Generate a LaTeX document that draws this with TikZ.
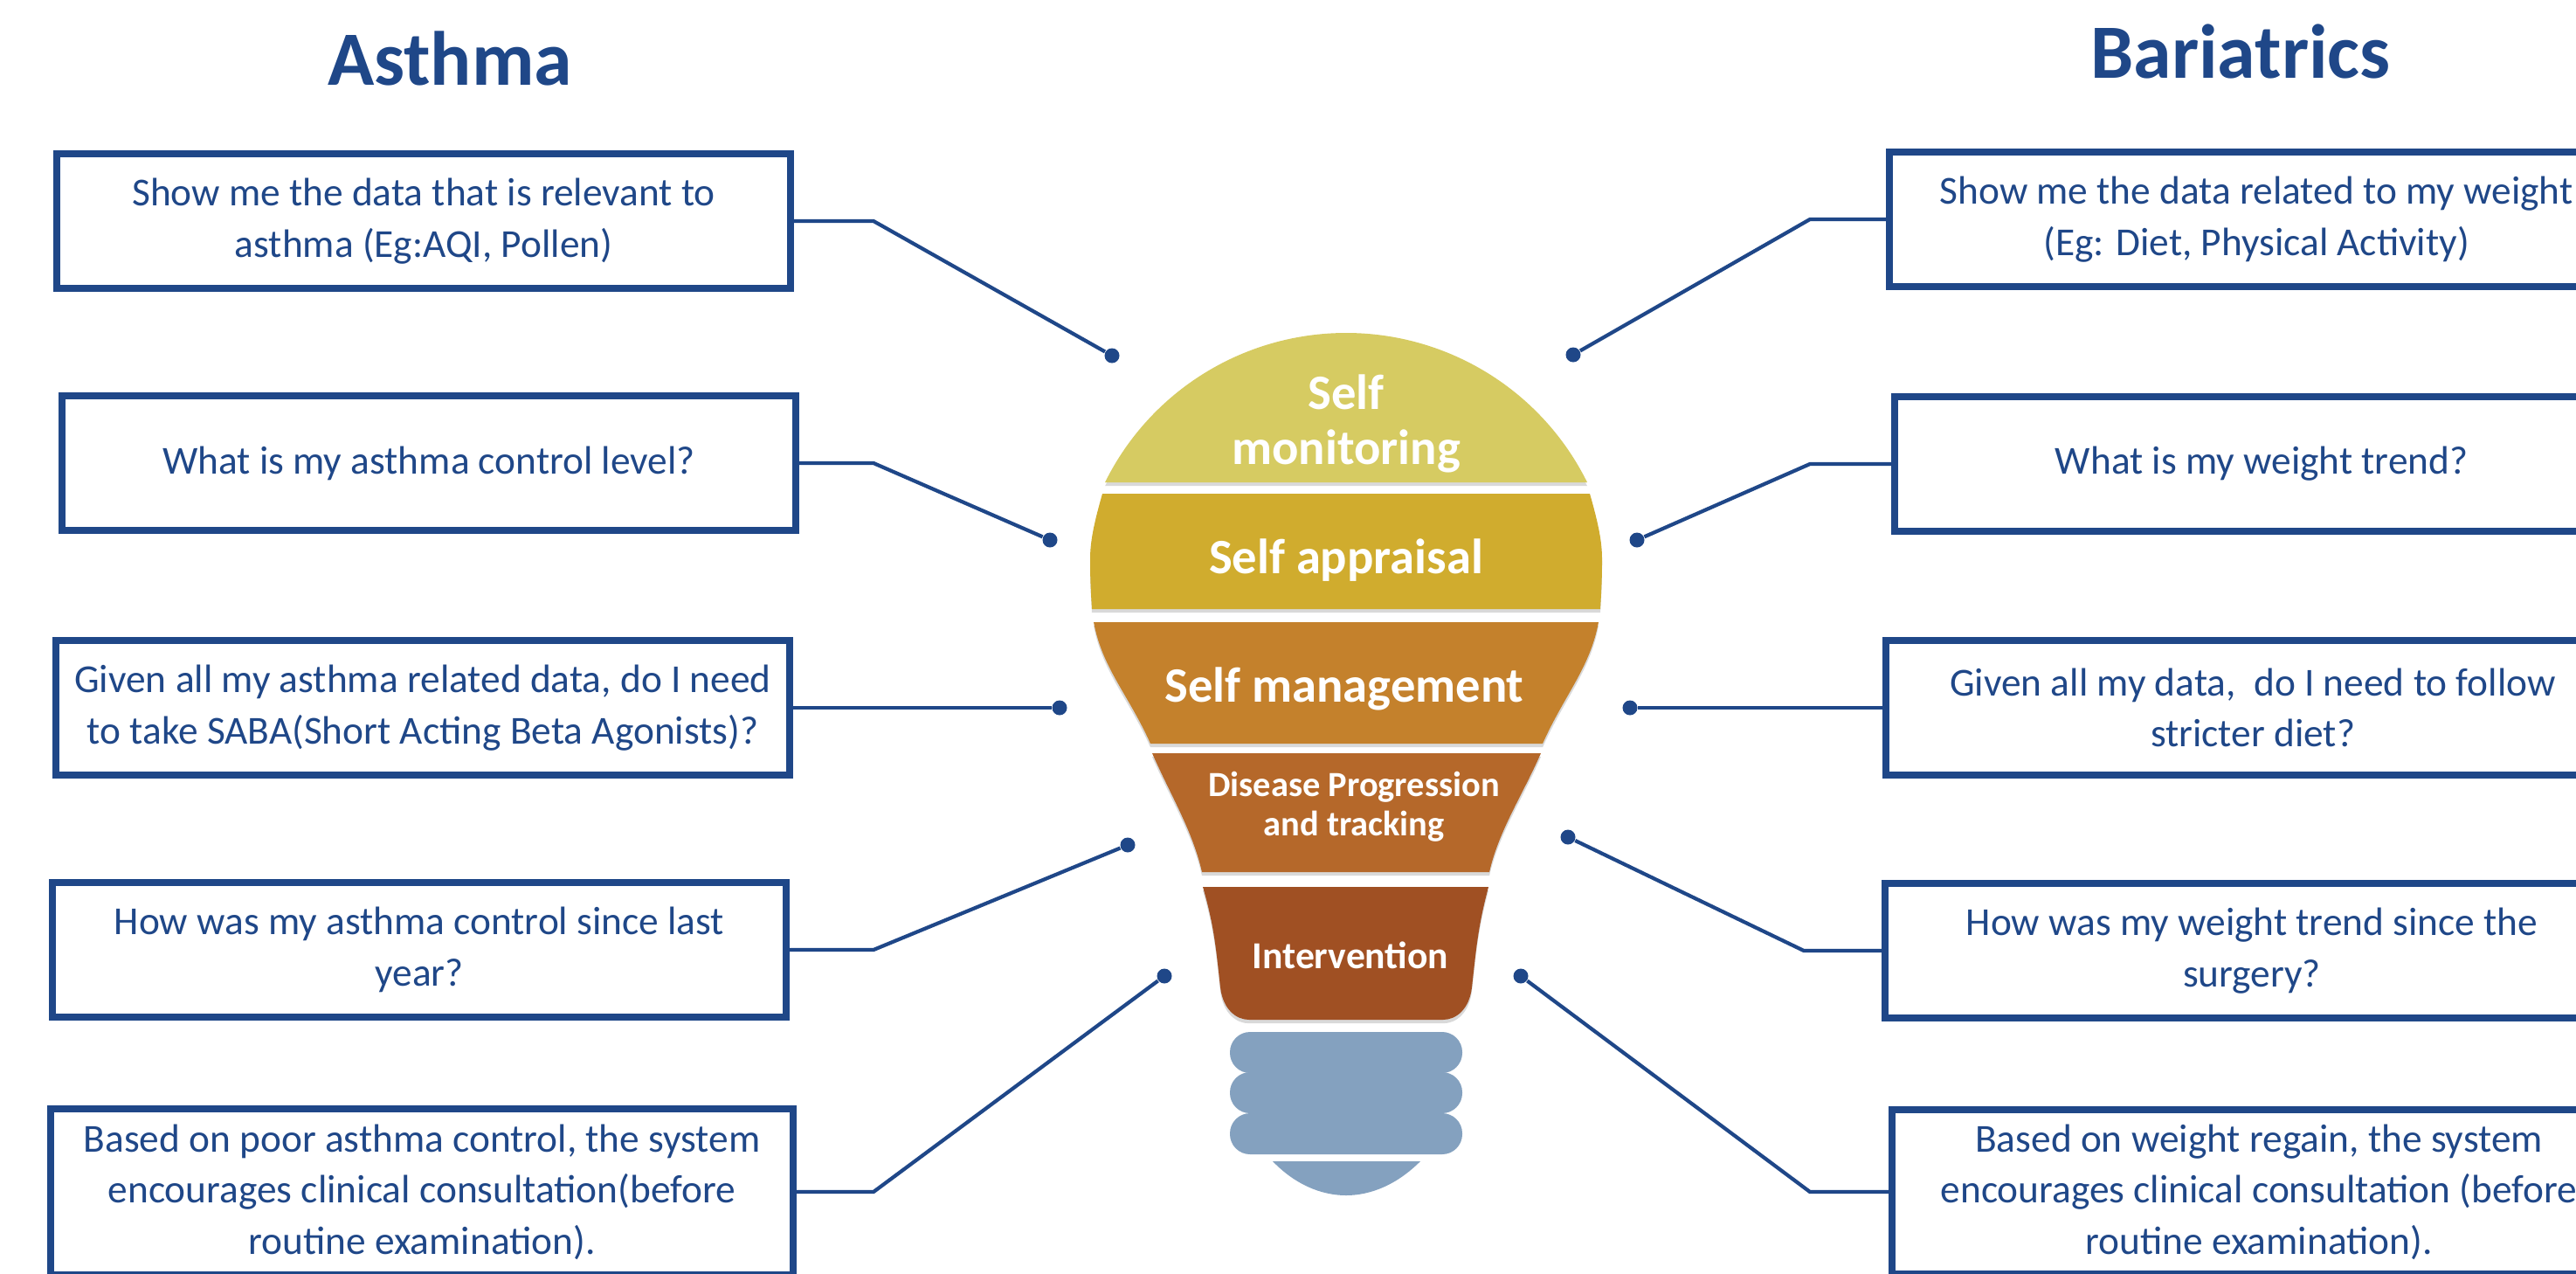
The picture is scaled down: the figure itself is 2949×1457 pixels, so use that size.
\documentclass[tikz,border=0pt]{standalone}
\usepackage{fontspec}
\setmainfont{Carlito}
\usepackage{tikz}
\usetikzlibrary{shadows}
\definecolor{navy}{HTML}{1F4788}
\definecolor{monitorcol}{HTML}{D6CB62}
\definecolor{appraisalcol}{HTML}{D0AC2E}
\definecolor{managecol}{HTML}{C4812C}
\definecolor{diseasecol}{HTML}{B5682A}
\definecolor{intervenecol}{HTML}{A05023}
\definecolor{basecol}{HTML}{84A1BF}
\tikzset{
  qbox/.style={draw=navy,line width=2.2pt,fill=white,minimum width=8.4cm,minimum height=1.54cm,
    inner sep=0pt,align=center,text=navy,font=\fontsize{12.9}{16.6}\selectfont},
  heading/.style={text=navy,font=\fontsize{25}{30}\selectfont\bfseries},
  dot/.style={circle,fill=navy,inner sep=0pt,minimum size=0.17cm},
  wire/.style={draw=navy,line width=1.2pt},
  bulbpart/.style={drop shadow={opacity=.3,shadow xshift=0pt,shadow yshift=-1.2pt}},
  bulbtext/.style={text=white,align=center,font=\fontsize{16.1}{17.8}\selectfont\bfseries},
  bulbsmall/.style={text=white,align=center,font=\fontsize{11.5}{12.8}\selectfont\bfseries}
}
\begin{document}
\begin{tikzpicture}[x=0.01cm,y=-0.01cm]
            \useasboundingbox (0,0) rectangle (2949,1457);
            % bulb
            \fill [monitorcol,bulbpart](1265,552) .. controls (1317,447) and (1424,381) .. (1541,381) .. controls (1658,381) and (1765,447) .. (1817,552) -- cycle;
            \fill [appraisalcol,bulbpart](1262,565) .. controls (1252,600) and (1248,620) .. (1248,640) .. controls (1248,665) and (1249,680) .. (1250,697) -- (1832,697) .. controls (1833,680) and (1834,665) .. (1834,640) .. controls (1834,620) and (1830,600) .. (1820,565) -- cycle;
            \fill [managecol,bulbpart](1252,712) .. controls (1262,765) and (1292,795) .. (1317,851) -- (1766,851) .. controls (1791,795) and (1820,765) .. (1830,712) -- cycle;
            \fill [diseasecol,bulbpart](1319,862) .. controls (1340,910) and (1365,950) .. (1376,998) -- (1705,998) .. controls (1716,950) and (1743,910) .. (1764,862) -- cycle;
            \fill [intervenecol,bulbpart](1377,1015) .. controls (1390,1060) and (1392,1085) .. (1397,1130) .. controls (1400,1155) and (1415,1167) .. (1430,1167) -- (1652,1167) .. controls (1667,1167) and (1682,1155) .. (1685,1130) .. controls (1690,1085) and (1692,1060) .. (1704,1015) -- cycle;
            \foreach \y in {1181,1227,1274}
              \fill [basecol,rounded corners=0.23cm](1408,\y) rectangle (1674,\y+47);
            \fill [basecol](1457,1329) -- (1626,1329) .. controls (1600,1355) and (1570,1368) .. (1541,1368) .. controls (1512,1368) and (1482,1355) .. (1457,1329) -- cycle;
            \node [bulbtext] (monitoring) at (1541,485) {Self\\monitoring};
            \node [bulbtext] (appraisal) at (1541,641) {Self appraisal};
            \node [bulbtext] (management) at (1539,788) {Self management};
            \node [bulbsmall] (disease) at (1550,923) {Disease Progression\\and tracking};
            \node [bulbsmall,font=\fontsize{12.4}{14}\selectfont\bfseries] (intervention) at (1546,1093) {Intervention};
            % headings
            \node [heading] (asthma) at (515,67) {Asthma};
            \node [heading] (bariatrics) at (2565,59) {Bariatrics};
            % left boxes
            \node [qbox] (lbox1) at (485,253) {Show me the data that is relevant to\\asthma (Eg:AQI, Pollen)};
            \node [qbox] (lbox2) at (491,530) {What is my asthma control level?};
            \node [qbox] (lbox3) at (484,810) {Given all my asthma related data, do I need\\to take SABA(Short Acting Beta Agonists)?};
            \node [qbox] (lbox4) at (480,1087) {How was my asthma control since last\\year?};
            \node [qbox,minimum width=8.5cm,minimum height=1.9cm] (lbox5) at (483,1364) {Based on poor asthma control, the system\\encourages clinical consultation(before\\routine examination).};
            % right boxes
            \node [qbox] (rbox1) at (2583,251) {Show me the data related to my weight\\(Eg: Diet, Physical Activity)};
            \node [qbox] (rbox2) at (2589,531) {What is my weight trend?};
            \node [qbox] (rbox3) at (2579,810) {Given all my data,\ \ do I need to follow\\stricter diet?};
            \node [qbox] (rbox4) at (2578,1088) {How was my weight trend since the\\surgery?};
            \node [qbox,minimum height=1.88cm] (rbox5) at (2586,1364) {Based on weight regain, the system\\encourages clinical consultation (before\\routine examination).};
            % dots
            \node [dot] (ldot1) at (1273,407) {};
            \node [dot] (ldot2) at (1202,618) {};
            \node [dot] (ldot3) at (1213,810) {};
            \node [dot] (ldot4) at (1291,967) {};
            \node [dot] (ldot5) at (1333,1117) {};
            \node [dot] (rdot1) at (1801,406) {};
            \node [dot] (rdot2) at (1874,618) {};
            \node [dot] (rdot3) at (1866,810) {};
            \node [dot] (rdot4) at (1795,958) {};
            \node [dot] (rdot5) at (1741,1117) {};
            % wires
            \draw [wire](lbox1.east)--(1000,253)--(ldot1);
            \draw [wire](lbox2.east)--(1000,530)--(ldot2);
            \draw [wire](lbox3.east)--(ldot3.west);
            \draw [wire](lbox4.east)--(1000,1087)--(ldot4);
            \draw [wire](lbox5.east)--(1000,1364)--(ldot5);
            \draw [wire](rbox1.west)--(2072,251)--(rdot1);
            \draw [wire](rbox2.west)--(2072,531)--(rdot2);
            \draw [wire](rbox3.west)--(rdot3.east);
            \draw [wire](rbox4.west)--(2065,1088)--(rdot4);
            \draw [wire](rbox5.west)--(2072,1364)--(rdot5);
\end{tikzpicture}
\end{document}
